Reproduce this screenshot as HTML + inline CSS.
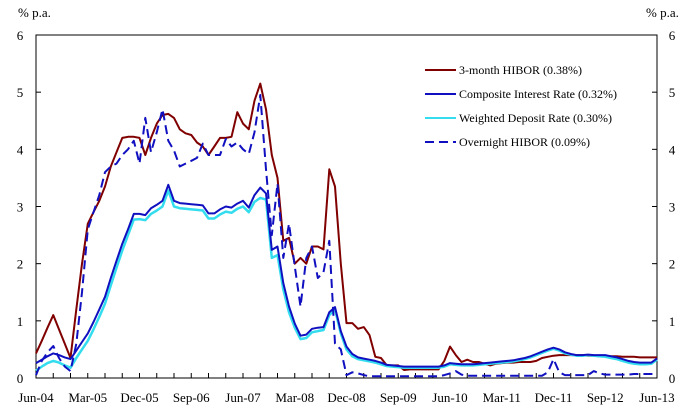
<!DOCTYPE html>
<html><head><meta charset="utf-8">
<style>
html,body{margin:0;padding:0;background:#fff;}
svg{display:block;font-family:"Liberation Serif",serif;}
</style></head>
<body>
<svg id="chart" width="694" height="413" viewBox="0 0 694 413">
  <text x="18" y="17" font-size="13">% p.a.</text>
  <text x="646" y="17" font-size="13">% p.a.</text>
  <g id="axes"></g>
  <g id="series"></g>
  <g id="legend"></g>
</svg>
<script>
const months = [];
for (let i = 0; i <= 108; i++) months.push(i);
const xTickLabels = ["Jun-04","Mar-05","Dec-05","Sep-06","Jun-07","Mar-08","Dec-08","Sep-09","Jun-10","Mar-11","Dec-11","Sep-12","Jun-13"];
const yTickLabels = [0,1,2,3,4,5,6];

const hibor3m = [0.43,0.65,0.88,1.1,0.85,0.6,0.35,1.2,2.0,2.7,
2.9,3.1,3.35,3.7,3.95,4.2,4.22,4.22,4.2,3.9,
4.2,4.45,4.6,4.62,4.55,4.35,4.28,4.25,4.12,4.05,
3.9,4.05,4.2,4.2,4.22,4.65,4.45,4.35,4.85,5.15,
4.7,3.9,3.5,2.4,2.45,2.0,2.1,2.0,2.3,2.3,
2.25,3.65,3.35,2.0,0.96,0.96,0.86,0.89,0.75,0.37,
0.35,0.22,0.22,0.22,0.14,0.15,0.15,0.15,0.15,0.15,
0.15,0.3,0.55,0.4,0.28,0.32,0.28,0.28,0.25,0.22,
0.25,0.26,0.27,0.27,0.28,0.28,0.28,0.3,0.35,0.37,
0.39,0.4,0.4,0.4,0.4,0.4,0.39,0.39,0.38,0.38,
0.38,0.38,0.37,0.37,0.37,0.36,0.36,0.36,0.36];

const composite = [0.26,0.32,0.38,0.43,0.4,0.36,0.33,0.48,0.63,0.78,
0.98,1.2,1.42,1.75,2.05,2.35,2.6,2.87,2.87,2.85,
2.97,3.03,3.1,3.38,3.1,3.06,3.05,3.04,3.03,3.02,
2.88,2.88,2.95,3.0,2.98,3.05,3.1,2.98,3.2,3.33,
3.23,2.24,2.3,1.66,1.25,0.95,0.74,0.76,0.86,0.88,
0.89,1.15,1.24,0.82,0.55,0.42,0.36,0.34,0.32,0.3,
0.27,0.23,0.22,0.21,0.2,0.2,0.2,0.2,0.2,0.2,
0.2,0.22,0.26,0.25,0.24,0.24,0.24,0.25,0.26,0.27,
0.28,0.29,0.3,0.31,0.33,0.35,0.38,0.42,0.46,0.5,
0.53,0.5,0.45,0.42,0.4,0.4,0.41,0.4,0.4,0.4,
0.38,0.36,0.33,0.3,0.28,0.27,0.27,0.27,0.34];

const deposit = [0.13,0.2,0.26,0.3,0.27,0.22,0.18,0.35,0.5,0.65,
0.85,1.07,1.3,1.62,1.93,2.23,2.5,2.77,2.78,2.76,
2.87,2.93,3.0,3.28,3.0,2.97,2.96,2.95,2.94,2.93,
2.79,2.79,2.86,2.91,2.89,2.96,3.0,2.9,3.08,3.15,
3.12,2.1,2.15,1.55,1.15,0.88,0.68,0.7,0.8,0.82,
0.84,1.1,1.2,0.78,0.5,0.38,0.33,0.31,0.29,0.27,
0.24,0.21,0.2,0.19,0.18,0.18,0.18,0.18,0.18,0.18,
0.18,0.2,0.24,0.23,0.22,0.22,0.22,0.23,0.24,0.25,
0.26,0.27,0.28,0.29,0.31,0.33,0.36,0.4,0.44,0.48,
0.51,0.48,0.43,0.41,0.39,0.39,0.4,0.39,0.38,0.37,
0.35,0.33,0.3,0.27,0.25,0.24,0.24,0.25,0.32];

const overnight = [0.05,0.3,0.45,0.56,0.35,0.2,0.12,0.6,1.5,2.6,
2.9,3.2,3.6,3.7,3.75,3.9,4.0,4.15,3.75,4.55,
3.95,4.3,4.7,4.15,3.98,3.7,3.75,3.8,3.85,4.1,
3.9,3.9,3.9,4.18,4.05,4.12,4.0,3.92,4.3,4.95,
3.65,2.5,3.4,2.1,2.7,1.95,1.25,2.1,2.3,1.75,
1.85,2.4,0.6,0.5,0.05,0.1,0.08,0.05,0.03,0.03,
0.03,0.03,0.03,0.03,0.03,0.03,0.03,0.03,0.03,0.03,
0.03,0.05,0.08,0.12,0.06,0.04,0.04,0.04,0.04,0.04,
0.04,0.04,0.04,0.04,0.04,0.04,0.04,0.04,0.04,0.1,
0.33,0.1,0.05,0.05,0.05,0.05,0.05,0.12,0.08,0.06,
0.06,0.06,0.06,0.06,0.07,0.07,0.07,0.07,0.07];

const NS = "http://www.w3.org/2000/svg";
const L = 36, R = 657, T = 35, B = 378;
function xScale(m){ return L + (R - L) * m / 108; }
function yScale(v){ return B - (B - T) * v / 6; }
function mk(tag, attrs, parent){ const e = document.createElementNS(NS, tag); for (const k in attrs) e.setAttribute(k, attrs[k]); parent.appendChild(e); return e; }

const axes = document.getElementById('axes');
const frame = mk('rect', {x:L, y:T, width:R-L, height:B-T, fill:'none', stroke:'#000', 'stroke-width':1}, axes);



yTickLabels.forEach(v => {
  const y = yScale(v);
  mk('line', {x1:L, x2:L+5, y1:y, y2:y, stroke:'#000'}, axes);
  mk('line', {x1:R-5, x2:R, y1:y, y2:y, stroke:'#000'}, axes);
  const tl = mk('text', {x:L-16, y:y+5, 'font-size':13, 'text-anchor':'middle'}, axes);
  tl.textContent = v;
  
  
  const tr = mk('text', {x:R+15, y:y+5, 'font-size':13, 'text-anchor':'middle'}, axes);
  tr.textContent = v;
  
  
});
for (let m = 0; m <= 108; m += 3) {
  const x = xScale(m);
  mk('line', {x1:x, x2:x, y1:B, y2:B-5, stroke:'#000'}, axes);
}
xTickLabels.forEach((lab, i) => {
  const t = mk('text', {x:xScale(i*9), y:402, 'font-size':13, 'text-anchor':'middle'}, axes);
  t.textContent = lab;
  
  
});

const seriesG = document.getElementById('series');
function drawLine(vals, color, width, dash, name){
  const d = vals.map((v, i) => (i ? 'L' : 'M') + xScale(months[i]).toFixed(1) + ',' + yScale(v).toFixed(1)).join('');
  const p = mk('path', {d:d, fill:'none', stroke:color, 'stroke-width':width, 'stroke-linejoin':'round'}, seriesG);
  if (dash) p.setAttribute('stroke-dasharray', dash);
  
  
}
drawLine(hibor3m, '#800000', 2, null, 'series-3-month-hibor');
drawLine(deposit, '#33ddee', 2.5, null, 'series-weighted-deposit-rate');
drawLine(composite, '#1010c0', 2, null, 'series-composite-interest-rate');
drawLine(overnight, '#1010c0', 2, '9,5', 'series-overnight-hibor');

const legend = document.getElementById('legend');
const legendItems = [
  ['3-month HIBOR (0.38%)', '#800000', null, 'legend-3-month-hibor'],
  ['Composite Interest Rate (0.32%)', '#1010c0', null, 'legend-composite-interest-rate'],
  ['Weighted Deposit Rate (0.30%)', '#33ddee', null, 'legend-weighted-deposit-rate'],
  ['Overnight HIBOR (0.09%)', '#1010c0', '9,5', 'legend-overnight-hibor']
];
legendItems.forEach((it, i) => {
  const y = 70 + i * 24;
  const g = mk('g', {}, legend);
  
  
  const ln = mk('line', {x1:425, x2:456, y1:y, y2:y, stroke:it[1], 'stroke-width':2}, g);
  if (it[2]) ln.setAttribute('stroke-dasharray', it[2]);
  const t = mk('text', {x:459, y:y+4, 'font-size':12}, g);
  t.textContent = it[0];
});
</script>
</body></html>
